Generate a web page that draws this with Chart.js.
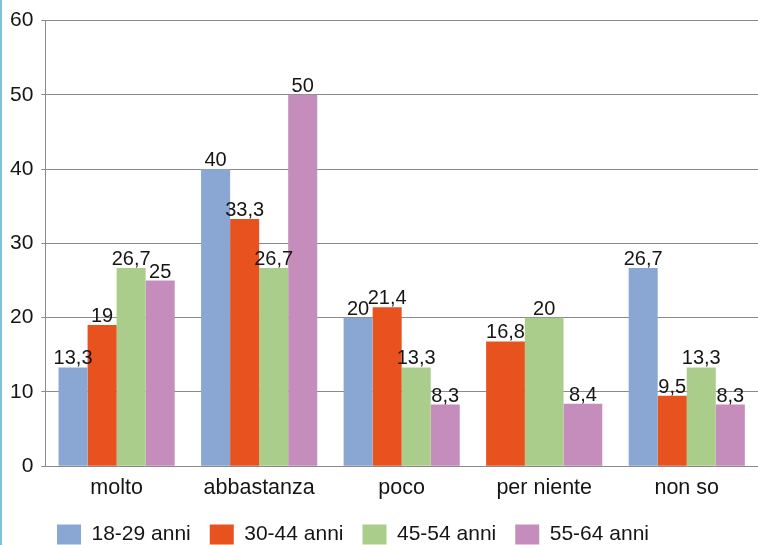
<!DOCTYPE html>
<html>
<head>
<meta charset="utf-8">
<script src="https://cdn.jsdelivr.net/npm/chart.js@4.4.1/dist/chart.umd.min.js"></script>
<style>
  html, body { margin: 0; padding: 0; background: #fff; }
  #wrap { position: relative; width: 758px; height: 545px; overflow: hidden; }
  #wrap canvas { position: absolute; left: 0; top: 0; }
  #edge { position: absolute; left: 0; top: 0; width: 2px; height: 545px; background: #84bedf; }
</style>
</head>
<body>
<div id="wrap">
  <canvas id="chart" width="758" height="545"></canvas>
  <div id="edge"></div>
</div>
<script>
// Risposte per fascia d'età (%)
const categories = ['molto', 'abbastanza', 'poco', 'per niente', 'non so'];
const seriesNames = ['18-29 anni', '30-44 anni', '45-54 anni', '55-64 anni'];
const anni18_29 = [13.3, 40, 20, null, 26.7];
const anni30_44 = [19, 33.3, 21.4, 16.8, 9.5];
const anni45_54 = [26.7, 26.7, 13.3, 20, 13.3];
const anni55_64 = [25, 50, 8.3, 8.4, 8.3];
const yTicks = [0, 10, 20, 30, 40, 50, 60];

const colors = ['#8aa7d3', '#e8521f', '#abcd8c', '#c48dbc'];
const textColor = '#151515';
const gridColor = '#8a8a8a';
const family = '"Liberation Sans", Arial, Helvetica, sans-serif';
const axisFont = { family, size: 21 };
const catFont = { family, size: 21.5 };
const legendFont = { family, size: 21 };
const valueFont = { family, size: 20 };

// offset applied to the legend block after layout
const legendShift = { x: -27, y: -5 };

const fmt = v => String(v).replace('.', ',');

const valueLabels = {
  id: 'valueLabels',
  afterDatasetsDraw(chart) {
    const ctx = chart.ctx;
    ctx.save();
    ctx.font = `${valueFont.size}px ${valueFont.family}`;
    ctx.fillStyle = textColor;
    ctx.textAlign = 'center';
    ctx.textBaseline = 'alphabetic';
    chart.data.datasets.forEach((ds, i) => {
      const meta = chart.getDatasetMeta(i);
      meta.data.forEach((bar, j) => {
        const v = ds.data[j];
        if (v === null || v === undefined) return;
        ctx.fillText(fmt(v), bar.x, bar.y - 3);
      });
    });
    ctx.restore();
  }
};

const moveLegend = {
  id: 'moveLegend',
  afterLayout(chart) {
    const l = chart.legend;
    if (!l) return;
    l.left += legendShift.x; l.right += legendShift.x;
    l.top += legendShift.y; l.bottom += legendShift.y;
  }
};

const series = [anni18_29, anni30_44, anni45_54, anni55_64];

new Chart(document.getElementById('chart'), {
  type: 'bar',
  data: {
    labels: categories,
    datasets: series.map((d, i) => ({
      label: seriesNames[i],
      data: d,
      backgroundColor: colors[i],
      borderWidth: 0,
      categoryPercentage: 0.815,
      barPercentage: 1.0
    }))
  },
  options: {
    responsive: false,
    animation: false,
    devicePixelRatio: 1,
    skipNull: true,
    layout: { padding: { left: 2, right: 0, top: 8, bottom: -15 } },
    plugins: {
      tooltip: { enabled: false },
      legend: {
        position: 'bottom',
        align: 'center',
        labels: {
          font: legendFont,
          color: textColor,
          boxWidth: 24,
          boxHeight: 20,
          padding: 19
        }
      }
    },
    scales: {
      x: {
        grid: { display: false, drawTicks: false },
        border: { color: gridColor, width: 1 },
        ticks: { font: catFont, color: textColor, padding: 9 }
      },
      y: {
        min: yTicks[0],
        max: yTicks[yTicks.length - 1],
        afterBuildTicks(axis) { axis.ticks = yTicks.map(v => ({ value: v })); },
        grid: { color: gridColor, lineWidth: 1, tickLength: 4 },
        border: { color: gridColor, width: 1 },
        ticks: { font: axisFont, color: textColor, padding: 8 }
      }
    }
  },
  plugins: [valueLabels, moveLegend]
});
</script>
</body>
</html>
